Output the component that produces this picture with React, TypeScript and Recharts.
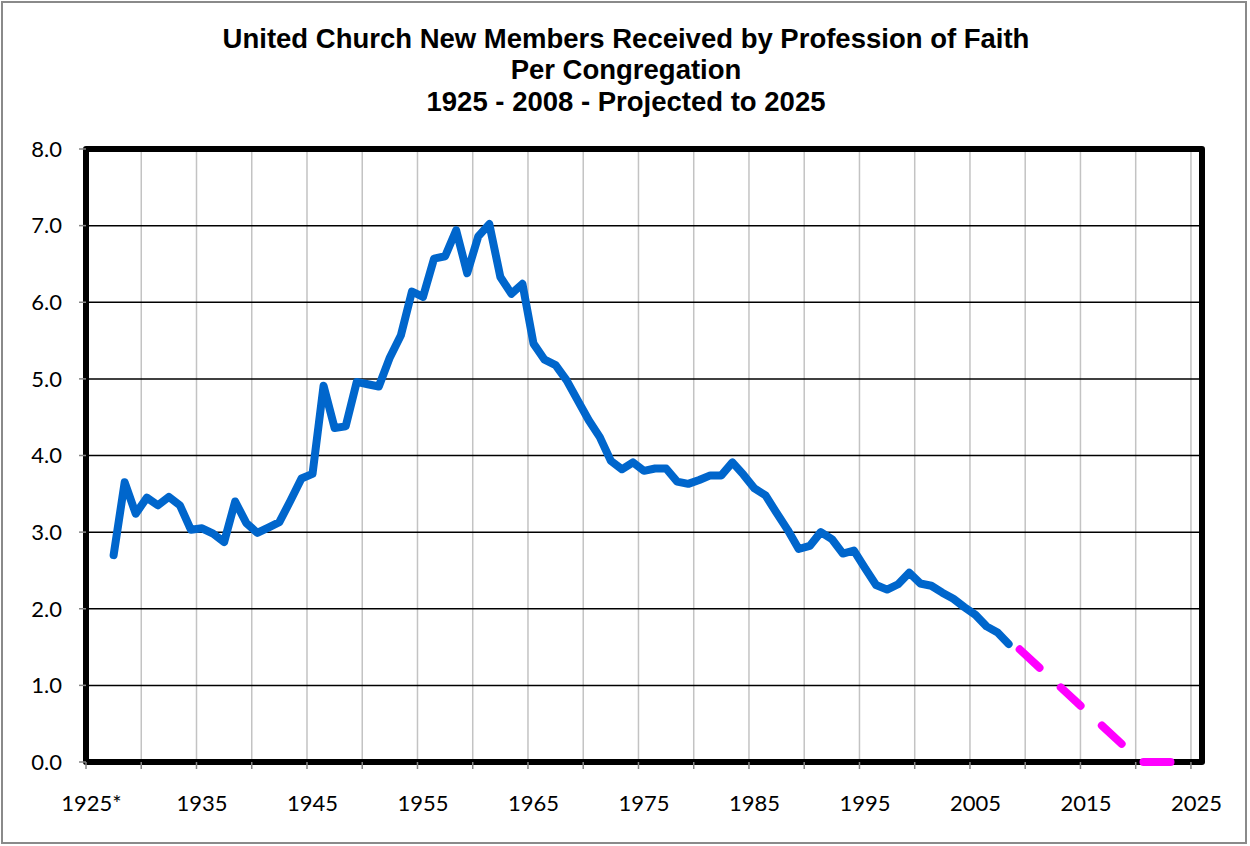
import React from 'react';
import { LineChart, Line, XAxis, YAxis, CartesianGrid, ReferenceArea } from 'recharts';

const titleLines = [
  'United Church New Members Received by Profession of Faith',
  'Per Congregation',
  '1925 - 2008 - Projected to 2025',
];

const actualStartYear = 1927;
const actualValues = [
  2.70, 3.65, 3.24, 3.45, 3.35, 3.46, 3.35, 3.03, 3.05, 2.98, // 1927-1936
  2.87, 3.40, 3.12, 2.99, 3.06, 3.13, 3.41, 3.70, 3.76, 4.91, // 1937-1946
  4.36, 4.38, 4.96, 4.93, 4.90, 5.28, 5.57, 6.14, 6.07, 6.57, // 1947-1956
  6.60, 6.94, 6.38, 6.86, 7.02, 6.33, 6.11, 6.24, 5.46, 5.25, // 1957-1966
  5.18, 4.98, 4.72, 4.46, 4.24, 3.93, 3.82, 3.91, 3.80, 3.83, // 1967-1976
  3.83, 3.66, 3.63, 3.68, 3.74, 3.74, 3.91, 3.75, 3.57, 3.48, // 1977-1986
  3.25, 3.03, 2.78, 2.82, 3.00, 2.91, 2.72, 2.76, 2.53, 2.31, // 1987-1996
  2.25, 2.32, 2.47, 2.33, 2.30, 2.21, 2.13, 2.02, 1.92, 1.77, // 1997-2006
  1.69, 1.54, // 2007-2008
];

const projectedYears = [2009, 2020, 2025];
const projectedValues = [1.47, 0, 0];

const xLabelYears = [1925, 1935, 1945, 1955, 1965, 1975, 1985, 1995, 2005, 2015, 2025];
const xLabelTexts = ['1925*', '1935', '1945', '1955', '1965', '1975', '1985', '1995', '2005', '2015', '2025'];
const xBoundaries = [
  1924.5, 1929.5, 1934.5, 1939.5, 1944.5, 1949.5, 1954.5, 1959.5, 1964.5, 1969.5, 1974.5,
  1979.5, 1984.5, 1989.5, 1994.5, 1999.5, 2004.5, 2009.5, 2014.5, 2019.5, 2024.5,
];
const xDomain = [1924.5, 2025.5];
const yTicks = [0, 1, 2, 3, 4, 5, 6, 7, 8];

const actualData = actualValues.map((v, i) => ({ year: actualStartYear + i, value: v }));
const projectedData = projectedYears.map((y, i) => ({ year: y, value: projectedValues[i] }));

const tickFont = { fontFamily: 'Lato, "Open Sans", sans-serif', fontSize: 22, fill: '#000' };

export default function App() {
  return (
    <div style={{ position: 'absolute', left: 0, top: 0, width: 1250, height: 846, background: '#fff' }}>
      <div
        style={{
          position: 'absolute',
          left: 1,
          top: 1,
          width: 1246,
          height: 843,
          border: '2px solid #8a8a8a',
          boxSizing: 'border-box',
        }}
      />
      <div
        style={{
          position: 'absolute',
          left: 0,
          top: 22.5,
          width: 1252,
          textAlign: 'center',
          fontFamily: '"Liberation Sans", Arial, sans-serif',
          fontWeight: 'bold',
          fontSize: 27.5,
          lineHeight: '31.5px',
          color: '#000',
        }}
      >
        {titleLines.map((t) => (
          <div key={t}>{t}</div>
        ))}
      </div>
      <div style={{ position: 'absolute', left: 0, top: 0 }}>
        <LineChart width={1250} height={846} margin={{ top: 149, right: 48, bottom: 0, left: 0 }}>
          <CartesianGrid
            xAxisId="grid"
            horizontal={false}
            stroke="#c3c3c3"
            strokeWidth={1.5}
          />
          <CartesianGrid
            xAxisId="grid"
            vertical={false}
            stroke="#000"
            strokeWidth={1.5}
          />
          <XAxis
            xAxisId="grid"
            dataKey="year"
            type="number"
            domain={xDomain}
            ticks={xBoundaries}
            interval={0}
            tick={{ fontSize: 1, fill: 'none' }}
            tickFormatter={() => ''}
            height={10}
            axisLine={false}
            tickLine={{ stroke: '#868686', strokeWidth: 1.5 }}
            tickSize={7}
            allowDataOverflow
          />
          <XAxis
            xAxisId="lab"
            dataKey="year"
            type="number"
            domain={xDomain}
            ticks={xLabelYears}
            interval={0}
            height={74}
            axisLine={false}
            tickLine={false}
            tickSize={0}
            tickMargin={23}
            tick={tickFont}
            tickFormatter={(v: number) => {
              const idx = xLabelYears.indexOf(v);
              return idx >= 0 ? xLabelTexts[idx] : '';
            }}
            allowDataOverflow
          />
          <YAxis
            type="number"
            domain={[0, 8]}
            ticks={yTicks}
            interval={0}
            width={86}
            axisLine={false}
            tickLine={{ stroke: '#868686', strokeWidth: 1.5 }}
            tickSize={7}
            tickMargin={17}
            tick={tickFont}
            tickFormatter={(v: number) => v.toFixed(1)}
          />
          <ReferenceArea
            xAxisId="grid"
            x1={xDomain[0]}
            x2={xDomain[1]}
            y1={0}
            y2={8}
            ifOverflow="visible"
            fill="none"
            fillOpacity={0}
            stroke="#000"
            strokeWidth={6}
            strokeLinejoin="round"
          />
          <Line
            xAxisId="grid"
            data={actualData}
            dataKey="value"
            type="linear"
            stroke="#0066cc"
            strokeWidth={8}
            strokeLinejoin="round"
            strokeLinecap="round"
            dot={false}
            activeDot={false}
            isAnimationActive={false}
          />
          <Line
            xAxisId="grid"
            data={projectedData}
            dataKey="value"
            type="linear"
            stroke="#ff00ff"
            strokeWidth={8}
            strokeLinecap="round"
            strokeDasharray="27 29"
            dot={false}
            activeDot={false}
            isAnimationActive={false}
          />
        </LineChart>
      </div>
    </div>
  );
}
